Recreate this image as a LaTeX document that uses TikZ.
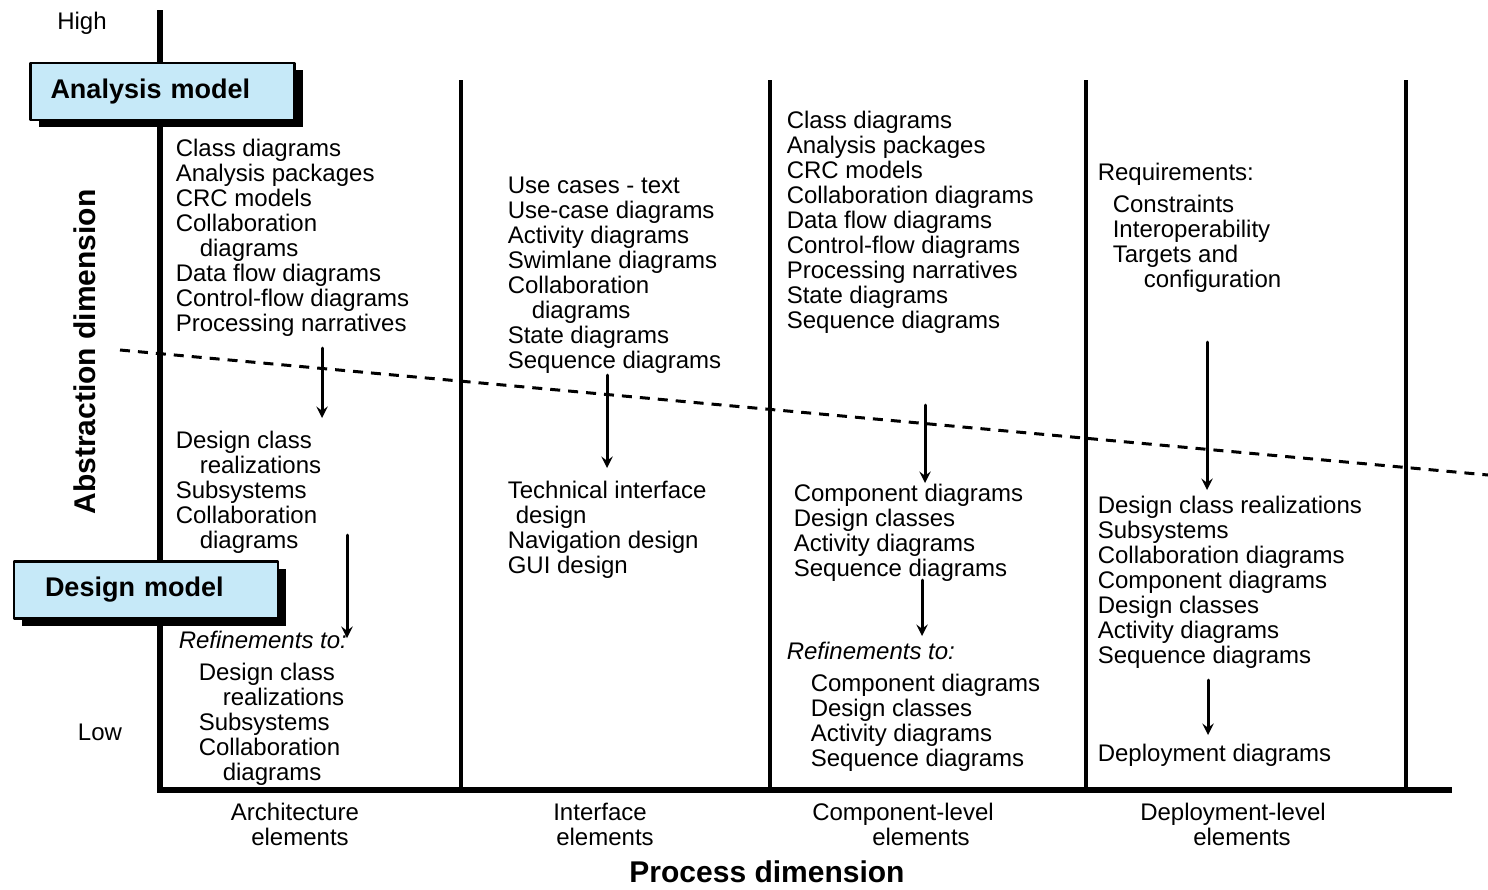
\documentclass[tikz,border=0pt]{standalone}
\usepackage{fontspec}
\setmainfont{Liberation Sans}
\usetikzlibrary{shadows}
\definecolor{modelblue}{HTML}{C6E9F8}
\newcommand{\subline}{\hspace*{12pt}}
\tikzset{
	listtext/.style={anchor=north west, align=left, inner sep=0pt, font=\fontsize{12}{12.5}\selectfont},
	axislabel/.style={align=center, inner sep=0pt, font=\fontsize{12}{12.5}\selectfont},
	dimlabel/.style={inner sep=0pt, font=\fontsize{15}{16}\selectfont\bfseries},
	modelbox/.style={draw, line width=1.2pt, fill=modelblue, align=left, inner ysep=0pt,
		minimum height=28.5pt, font=\fontsize{13.5}{14}\selectfont\bfseries,
		drop shadow={shadow xshift=4pt, shadow yshift=-3.5pt, fill=black, opacity=1}},
	divider/.style={line width=1.6pt, line cap=butt},
	axis/.style={line width=3.2pt, line cap=butt, line join=miter}
}
\begin{document}
\begin{tikzpicture}[
	>=stealth,
	thick,
	line cap=round,
	line join=round,
	x=0.5pt,
	y=-0.5pt
	]
	\useasboundingbox (0,0) rectangle (1488,889);
	% column dividers
	\draw[divider] (461,80) -- (461,790);
	\draw[divider] (770,80) -- (770,790);
	\draw[divider] (1086,80) -- (1086,790);
	\draw[divider] (1406,80) -- (1406,790);
	% abstraction boundary
	\draw[line width=1.5pt, line cap=butt, dash pattern=on 5pt off 4pt] (120,350) -- (1488,475);
	% axes
	\draw[axis] (160,10) -- (160,790) -- (1452,790);
	\node (high) at (82,23) {\fontsize{12}{12.5}\selectfont High};
	\node (low) at (100,732) {\fontsize{12}{12.5}\selectfont Low};
	\node[dimlabel, rotate=90] (abstraction) at (85,352) {Abstraction dimension};
	\node[dimlabel] (process) at (767,872) {Process dimension};
	% model boxes
	\node[modelbox, text width=112pt, inner xsep=10pt] (analysis) at (162.5,91.5) {Analysis model};
	\node[modelbox, text width=101pt, inner xsep=15.5pt] (design) at (146,590) {Design model};
	% architecture elements
	\node[listtext] (arch1) at (175,138) {Class diagrams\\Analysis packages\\CRC models\\Collaboration\\\subline diagrams\\Data flow diagrams\\Control-flow diagrams\\Processing narratives};
	\node[listtext] (arch2) at (175,430) {Design class\\\subline realizations\\Subsystems\\Collaboration\\\subline diagrams};
	\node[listtext, font=\fontsize{12}{12.5}\selectfont\itshape] (archref) at (178,630) {Refinements to:};
	\node[listtext] (arch3) at (198,662) {Design class\\\subline realizations\\Subsystems\\Collaboration\\\subline diagrams};
	% interface elements
	\node[listtext] (intf1) at (507,176) {Use cases - text\\Use-case diagrams\\Activity diagrams\\Swimlane diagrams\\Collaboration\\\subline diagrams\\State diagrams\\Sequence diagrams};
	\node[listtext] (intf2) at (507,480) {Technical interface\\\hspace*{4pt}design\\Navigation design\\GUI design};
	% component-level elements
	\node[listtext] (comp1) at (786,110) {Class diagrams\\Analysis packages\\CRC models\\Collaboration diagrams\\Data flow diagrams\\Control-flow diagrams\\Processing narratives\\State diagrams\\Sequence diagrams};
	\node[listtext] (comp2) at (793,483) {Component diagrams\\Design classes\\Activity diagrams\\Sequence diagrams};
	\node[listtext, font=\fontsize{12}{12.5}\selectfont\itshape] (compref) at (786,641) {Refinements to:};
	\node[listtext] (comp3) at (810,673) {Component diagrams\\Design classes\\Activity diagrams\\Sequence diagrams};
	% deployment-level elements
	\node[listtext] (depl1) at (1097,162) {Requirements:\\[3.5pt]\hspace*{7.5pt}Constraints\\\hspace*{7.5pt}Interoperability\\\hspace*{7.5pt}Targets and\\\hspace*{23pt}configuration};
	\node[listtext] (depl2) at (1097,495) {Design class realizations\\Subsystems\\Collaboration diagrams\\Component diagrams\\Design classes\\Activity diagrams\\Sequence diagrams};
	\node[listtext] (depl3) at (1097,743) {Deployment diagrams};
	% process labels
	\node[axislabel, anchor=north] (archlbl) at (295,802) {Architecture\\\hspace*{5pt}elements};
	\node[axislabel, anchor=north] (intflbl) at (600,802) {Interface\\\hspace*{5pt}elements};
	\node[axislabel, anchor=north] (complbl) at (903,802) {Component-level\\\hspace*{18pt}elements};
	\node[axislabel, anchor=north] (depllbl) at (1233,802) {Deployment-level\\\hspace*{9pt}elements};
	% refinement arrows
	\coordinate (a1) at (322,348);
	\coordinate (a2) at (322,418);
	\coordinate (a3) at (347,535);
	\coordinate (a4) at (347,638);
	\coordinate (b1) at (607,375);
	\coordinate (b2) at (607,468);
	\coordinate (c1) at (925,405);
	\coordinate (c2) at (925,483);
	\coordinate (c3) at (922,580);
	\coordinate (c4) at (922,636);
	\coordinate (d1) at (1207,342);
	\coordinate (d2) at (1207,490);
	\coordinate (d3) at (1208,680);
	\coordinate (d4) at (1208,735);
	\begin{scope}[->, line width=1.5pt]
		\draw (a1) -- (a2);
		\draw (a3) -- (a4);
		\draw (b1) -- (b2);
		\draw (c1) -- (c2);
		\draw (c3) -- (c4);
		\draw (d1) -- (d2);
		\draw (d3) -- (d4);
	\end{scope}
\end{tikzpicture}
\end{document}
